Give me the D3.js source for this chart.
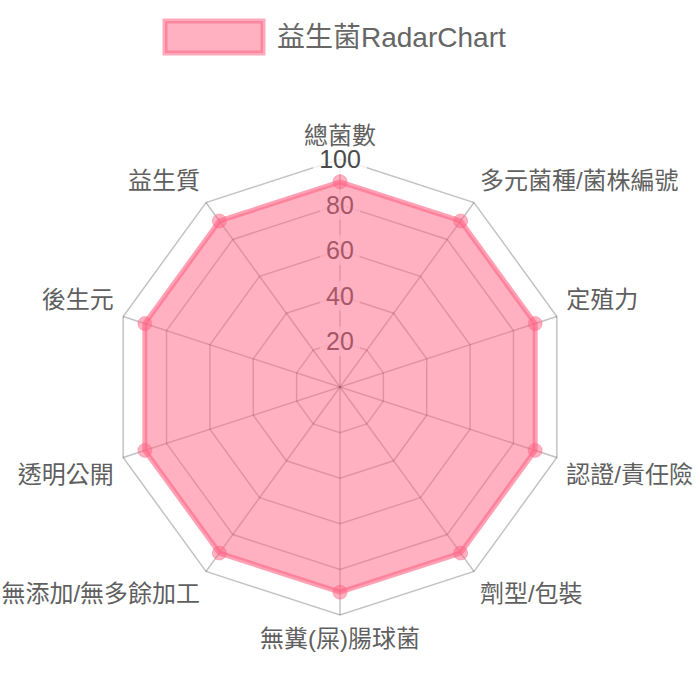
<!DOCTYPE html>
<html>
<head>
<meta charset="utf-8">
<script src="https://cdn.jsdelivr.net/npm/d3@7"></script>
<style>
  body { margin: 0; background: #fff; }
  text { font-family: "Liberation Sans", "Noto Sans CJK TC", sans-serif; }
</style>
</head>
<body>
<div class="container"></div>
<script>
  var width = 700,
    height = 700,
    cx = 340,
    cy = 387,
    radius = 228;

  // chart data
  var seriesName = "益生菌RadarChart";
  var labels = ["總菌數", "多元菌種/菌株編號", "定殖力", "認證/責任險", "劑型/包裝",
    "無糞(屎)腸球菌", "無添加/無多餘加工", "透明公開", "後生元", "益生質"];
  var values = [90, 90, 90, 90, 90, 90, 90, 90, 90, 90];
  var ticks = [20, 40, 60, 80, 100];

  var r = d3.scaleLinear().domain([0, 100]).range([0, radius]);
  var angle = d3.scaleLinear().domain([0, labels.length]).range([0, 2 * Math.PI]);

  function pos(i, dist) {
    var a = angle(i);
    return [cx + dist * Math.sin(a), cy - dist * Math.cos(a)];
  }

  var svg = d3.select(".container").append("svg")
    .attr("width", width)
    .attr("height", height);

  // legend
  var legend = svg.append("g").attr("class", "legend");
  legend.append("rect")
    .attr("x", 165).attr("y", 21)
    .attr("width", 98).attr("height", 32)
    .attr("fill", "rgba(255,99,132,0.5)")
    .attr("stroke", "rgba(255,99,132,0.55)")
    .attr("stroke-width", 5);
  legend.append("text")
    .attr("x", 277).attr("y", 47)
    .attr("font-size", 28)
    .attr("fill", "#666")
    .text(seriesName);

  var grid = svg.append("g").attr("class", "grid");

  // rings
  grid.selectAll(".ring")
    .data(ticks)
    .enter().append("polygon")
    .attr("class", "ring")
    .attr("points", function(t) {
      return labels.map(function(l, i) { return pos(i, r(t)).join(","); }).join(" ");
    })
    .attr("fill", "none")
    .attr("stroke", "rgba(0,0,0,0.24)")
    .attr("stroke-width", 1.5);

  // spokes
  grid.selectAll(".spoke")
    .data(labels)
    .enter().append("line")
    .attr("class", "spoke")
    .attr("x1", cx).attr("y1", cy)
    .attr("x2", function(d, i) { return pos(i, r(100))[0]; })
    .attr("y2", function(d, i) { return pos(i, r(100))[1]; })
    .attr("stroke", "rgba(0,0,0,0.24)")
    .attr("stroke-width", 1.5);

  // tick labels with backdrop
  var tick = grid.selectAll(".tick")
    .data(ticks)
    .enter().append("g")
    .attr("class", "tick");

  tick.append("text")
    .attr("x", cx)
    .attr("y", function(t) { return cy - r(t) + 9; })
    .attr("text-anchor", "middle")
    .attr("font-size", 25)
    .attr("fill", "#4a4a4a")
    .text(function(t) { return t; });

  tick.each(function() {
    var g = d3.select(this),
      b = g.select("text").node().getBBox();
    g.insert("rect", "text")
      .attr("x", b.x - 6).attr("y", b.y - 1)
      .attr("width", b.width + 12).attr("height", b.height + 2)
      .attr("fill", "rgba(255,255,255,0.75)");
  });

  // dataset
  var line = d3.lineRadial()
    .angle(function(d, i) { return angle(i); })
    .radius(function(d) { return r(d); })
    .curve(d3.curveLinearClosed);

  var data = svg.append("g")
    .attr("transform", "translate(" + cx + "," + cy + ")");

  data.append("path")
    .attr("d", line(values))
    .attr("fill", "rgba(255,99,132,0.5)")
    .attr("stroke", "rgba(255,99,132,0.6)")
    .attr("stroke-width", 5)
    .attr("stroke-linejoin", "round");

  svg.selectAll(".point")
    .data(values)
    .enter().append("circle")
    .attr("class", "point")
    .attr("cx", function(d, i) { return pos(i, r(d))[0]; })
    .attr("cy", function(d, i) { return pos(i, r(d))[1]; })
    .attr("r", 7)
    .attr("fill", "rgba(255,99,132,0.5)")
    .attr("stroke", "rgba(255,99,132,0.4)")
    .attr("stroke-width", 1);

  // point labels
  svg.selectAll(".plabel")
    .data(labels)
    .enter().append("text")
    .attr("class", "plabel")
    .attr("font-size", 24)
    .attr("fill", "#5f5f5f")
    .each(function(d, i) {
      var p = pos(i, radius + 10),
        deg = i * 360 / labels.length,
        anchor = (deg === 0 || deg === 180) ? "middle" : (deg < 180 ? "start" : "end"),
        y;
      if (deg === 90 || deg === 270) y = p[1] + 8;
      else if (deg < 90 || deg > 270) y = p[1] - 5;
      else y = p[1] + 22;
      d3.select(this)
        .attr("x", p[0]).attr("y", y)
        .attr("text-anchor", anchor)
        .text(d);
    });
</script>
</body>
</html>
